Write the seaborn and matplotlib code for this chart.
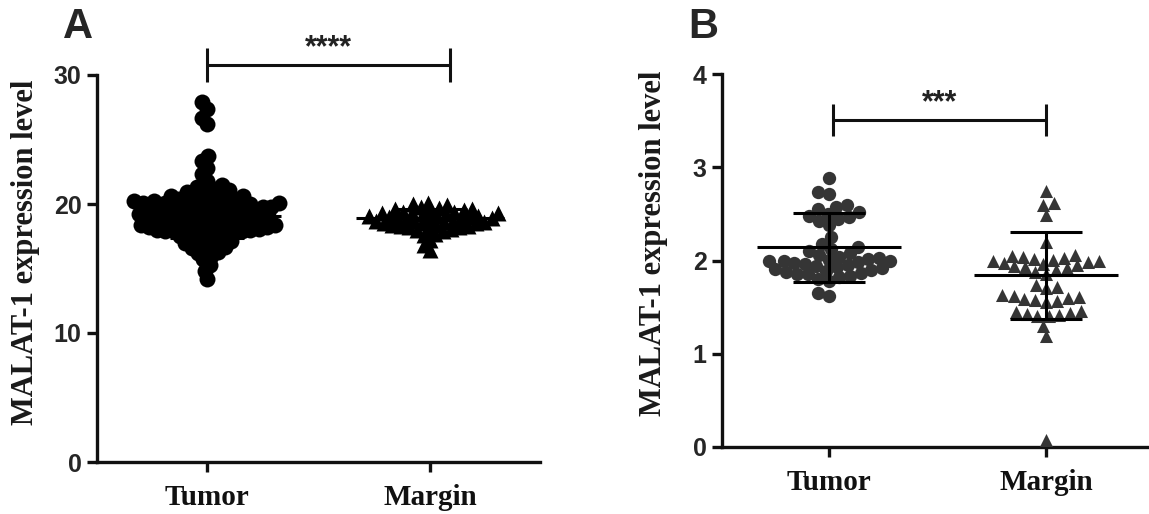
import numpy as np
import pandas as pd
import matplotlib
matplotlib.use("Agg")
import matplotlib.pyplot as plt
import seaborn as sns

# ---------------- data ----------------
categories = ["Tumor", "Margin"]

a_tumor = [14.2, 14.8, 15.3, 15.7, 16.0,
           16.2, 16.3, 16.5, 16.6, 16.7, 16.8, 16.9, 17.0, 17.1, 17.2, 17.3, 17.4,
           17.5, 17.6, 17.7,
           17.8, 17.8, 17.8, 17.9, 17.9, 17.9, 18.0, 18.0, 18.0, 18.1, 18.1, 18.2,
           18.2, 18.2, 18.3, 18.3, 18.4, 18.4, 18.4, 18.5, 18.5, 18.6, 18.6, 18.6,
           18.7, 18.7, 18.8, 18.8, 18.8, 18.9, 18.9, 19.0, 19.0, 19.0, 19.1, 19.1,
           19.2, 19.2, 19.2, 19.3, 19.3, 19.4, 19.4, 19.4, 19.5, 19.5, 19.6, 19.6,
           19.6, 19.7, 19.7, 19.8, 19.8, 19.8, 19.9, 19.9, 20.0, 20.0, 20.0, 20.1,
           20.1, 20.1, 20.2, 20.2, 20.2, 20.3, 20.3,
           20.4, 20.4, 20.5, 20.6, 20.6, 20.7, 20.8, 20.9, 21.0, 21.1, 21.2, 21.3, 21.5,
           21.8, 22.3, 22.8, 23.3, 23.7,
           26.2, 26.7, 27.4, 27.9]

a_margin = [16.4, 16.8, 17.2, 17.6, 17.7,
            17.9, 18.0, 18.1, 18.1, 18.2, 18.2, 18.3, 18.3, 18.4, 18.4, 18.5,
            18.5, 18.5, 18.6, 18.6, 18.7, 18.7, 18.7, 18.8, 18.8, 18.9, 18.9,
            18.9, 19.0, 19.0, 19.1, 19.1, 19.1, 19.2, 19.2, 19.3, 19.3, 19.3,
            19.4, 19.4, 19.5, 19.5, 19.6, 19.6, 19.7, 19.8, 19.9, 20.0, 20.1]

b_tumor = [1.62, 1.65, 1.78, 1.80, 1.82, 1.83, 1.85, 1.86, 1.87, 1.88, 1.89,
           1.90, 1.91, 1.92, 1.93, 1.94, 1.95, 1.96, 1.97, 1.98,
           1.99, 2.00, 2.00, 2.01, 2.02, 2.03, 2.04, 2.06, 2.08, 2.10, 2.12,
           2.15, 2.18, 2.25, 2.38, 2.42, 2.45, 2.47, 2.48, 2.50, 2.52, 2.55,
           2.57, 2.60, 2.71, 2.73, 2.88]

b_margin = [0.07, 1.19, 1.30, 1.40, 1.41, 1.42, 1.43, 1.44, 1.45, 1.46,
            1.55, 1.57, 1.58, 1.59, 1.60, 1.61, 1.62, 1.63, 1.70, 1.72, 1.74,
            1.85, 1.88, 1.90, 1.92, 1.93, 1.94, 1.95, 1.96, 1.97, 1.98, 1.99,
            2.00, 2.01, 2.02, 2.03, 2.04, 2.05, 2.06, 2.20, 2.49, 2.60, 2.62, 2.74]

# mean and SD per group
a_mean = [19.1, 18.9]
a_sd = [1.7, 0.7]
b_mean = [2.14, 1.84]
b_sd = [0.37, 0.47]

a_yticks = [0, 10, 20, 30]
b_yticks = [0, 1, 2, 3, 4]
ylabel = "MALAT-1 expression level"
a_sig, b_sig = "****", "***"

# ---------------- style ----------------
sns.set_style("ticks")
plt.rcParams["font.family"] = ["Liberation Sans", "DejaVu Sans"]

SERIF = "Liberation Serif"
SANS = "Liberation Sans"
LW = 2.4

W, H = 1149, 514
fig = plt.figure(figsize=(W / 100, H / 100), dpi=100)
axA = fig.add_axes([97 / W, 1 - 462 / H, 443 / W, 387 / H])
axB = fig.add_axes([722 / W, 1 - 447 / H, 427 / W, 373 / H])


def swarm(ax, values, cat, marker, color, layout_size):
    df = pd.DataFrame({"group": [cat] * len(values), "value": values})
    n0 = len(ax.collections)
    sns.swarmplot(data=df, x="group", y="value", order=categories,
                  marker=marker, color=color, size=layout_size,
                  linewidth=0, ax=ax, zorder=3)
    return ax.collections[n0:]


collsA = []
collsA += [(c, 11.5) for c in swarm(axA, a_tumor, "Tumor", "o", "black", 5.8)]
collsA += [(c, 11.5) for c in swarm(axA, a_margin, "Margin", "^", "black", 5.8)]
collsB = []
collsB += [(c, 9.6) for c in swarm(axB, b_tumor, "Tumor", "o", "#353535", 7.6)]
collsB += [(c, 9.4) for c in swarm(axB, b_margin, "Margin", "^", "#353535", 7.6)]


def style_axes(ax, ylim, yticks, xlim):
    ax.set_xlim(*xlim)
    ax.set_ylim(*ylim)
    ax.set_yticks(yticks)
    ax.set_xticks([0, 1])
    ax.set_xticklabels(categories, fontfamily=SERIF, fontweight="bold",
                       fontsize=21, color="#111111")
    for lab in ax.get_yticklabels():
        lab.set_fontfamily(SANS)
        lab.set_fontweight("bold")
        lab.set_fontsize(18)
    for s in ["top", "right"]:
        ax.spines[s].set_visible(False)
    for s in ["left", "bottom"]:
        ax.spines[s].set_linewidth(LW)
        ax.spines[s].set_color("#111111")
    ax.tick_params(axis="both", width=LW, length=7, color="#111111")
    ax.tick_params(axis="x", pad=9)
    ax.tick_params(axis="y", pad=4)
    ax.set_xlabel("")
    ax.set_ylabel(ylabel, fontfamily=SERIF, fontweight="bold", fontsize=22,
                  color="#1a1a1a")


style_axes(axA, (0, 30), a_yticks, (-0.493, 1.493))
style_axes(axB, (0, 4), b_yticks, (-0.493, 1.475))
axA.yaxis.set_label_coords(-0.129, 0.543)
axB.yaxis.set_label_coords(-0.126, 0.547)


def mean_sd(ax, means, sds, lw=2.2):
    xs = np.arange(len(categories))
    m = np.array(means)
    s = np.array(sds)
    ax.hlines(m, xs - 0.33, xs + 0.33, color="black", lw=lw, zorder=4)
    ax.hlines(m + s, xs - 0.165, xs + 0.165, color="black", lw=lw, zorder=4)
    ax.hlines(m - s, xs - 0.165, xs + 0.165, color="black", lw=lw, zorder=4)
    ax.vlines(xs, m - s, m + s, color="black", lw=lw, zorder=4)


mean_sd(axA, a_mean, a_sd)
mean_sd(axB, b_mean, b_sd)


def sig_bar(ax, x0, x1, y, tick, star_y, text):
    ax.plot([x0, x1], [y, y], color="#111111", lw=2.2, clip_on=False,
            solid_capstyle="butt")
    for xx in (x0, x1):
        ax.plot([xx, xx], [y - tick, y + tick], color="#111111", lw=2.2,
                clip_on=False, solid_capstyle="butt")
    ax.text((x0 + x1) / 2, star_y, text, ha="center", va="center",
            fontsize=22, fontweight="bold", family=SANS, color="#222222",
            clip_on=False)


sig_bar(axA, 0.0, 1.09, 30.77, 1.32, 32.1, a_sig)
sig_bar(axB, 0.02, 1.0, 3.51, 0.17, 3.69, b_sig)

fig.text(78 / W, 1 - 27 / H, "A", ha="center", va="center", fontsize=30,
         fontweight="bold", family=SANS)
fig.text(703 / W, 1 - 27 / H, "B", ha="center", va="center", fontsize=30,
         fontweight="bold", family=SANS)

# compute the swarm layout with the small size, then freeze it and
# enlarge the markers so they overlap like in the original
fig.canvas.draw()
for c, ms in collsA + collsB:
    if "draw" in c.__dict__:
        del c.draw
    c.set_sizes([ms ** 2])
    c.set_clip_on(True)

fig.savefig("out.png", dpi=100, facecolor="white")
